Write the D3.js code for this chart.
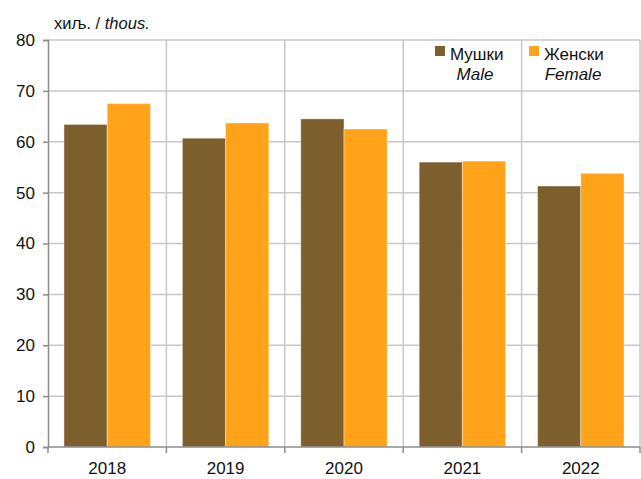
<html>
<head>
	<script src="https://cdn.jsdelivr.net/npm/d3@7"></script>
	<style type="text/css">
	body { margin: 0; background: #fff; }
	text { font-family: "Liberation Sans", Arial, sans-serif; }
	</style>
</head>
<body>
<script type="text/javascript">
	// data
	var years = ["2018", "2019", "2020", "2021", "2022"];
	var male = [63.4, 60.7, 64.5, 56.0, 51.3];
	var female = [67.5, 63.7, 62.5, 56.2, 53.8];
	var yTicks = [0, 10, 20, 30, 40, 50, 60, 70, 80];
	var seriesNames = ["Мушки", "Женски"];
	var seriesNamesEn = ["Male", "Female"];
	var colors = ["#7d5f2d", "#ffa31a"];

	var w = 641, h = 479;
	var pL = 48, pR = 640, pT = 40, pB = 447;

	var svg = d3.select("body").append("svg")
		.attr("width", w)
		.attr("height", h);

	var x = d3.scaleBand().domain(years).range([pL, pR])
		.paddingInner(0.27).paddingOuter(0.135);
	var xs = d3.scaleBand().domain([0, 1]).range([0, x.bandwidth()]);
	var y = d3.scaleLinear().domain([0, 80]).range([pB, pT]);

	// horizontal gridlines
	svg.append("g").selectAll("line").data(yTicks.filter(function(d) { return d > 0; }))
		.enter().append("line")
		.attr("x1", pL).attr("x2", pR)
		.attr("y1", function(d) { return y(d); })
		.attr("y2", function(d) { return y(d); })
		.attr("stroke", "#c8c8c8").attr("stroke-width", 1.5);

	// vertical gridlines at category edges
	var step = x.step();
	var edges = d3.range(1, years.length + 1).map(function(i) { return pL + i * step; });
	svg.append("g").selectAll("line").data(edges)
		.enter().append("line")
		.attr("x1", function(d) { return d; }).attr("x2", function(d) { return d; })
		.attr("y1", pT).attr("y2", pB)
		.attr("stroke", "#c8c8c8").attr("stroke-width", 1.5);

	// bars
	var rows = years.map(function(yr, i) { return { year: yr, vals: [male[i], female[i]] }; });
	var grp = svg.append("g").selectAll("g").data(rows).enter().append("g")
		.attr("transform", function(d) { return "translate(" + x(d.year) + ",0)"; });
	grp.selectAll("rect").data(function(d) { return d.vals; })
		.enter().append("rect")
		.attr("x", function(d, i) { return xs(i); })
		.attr("width", xs.bandwidth())
		.attr("y", function(d) { return y(d); })
		.attr("height", function(d) { return pB - y(d); })
		.attr("fill", function(d, i) { return colors[i]; })
		.attr("stroke", "#fff").attr("stroke-opacity", 0.4).attr("stroke-width", 1);

	// y axis
	var yAxis = svg.append("g").attr("transform", "translate(" + pL + ",0)")
		.call(d3.axisLeft(y).tickValues(yTicks).tickSize(5).tickPadding(8));
	yAxis.select(".domain").attr("stroke", "#8c8c8c").attr("stroke-width", 1.5);
	yAxis.selectAll(".tick line").attr("stroke", "#8c8c8c").attr("stroke-width", 1.5);
	yAxis.selectAll(".tick text").attr("font-size", 17).attr("fill", "#111")
		.attr("font-family", "Liberation Sans, Arial, sans-serif");

	// x axis
	var xAxis = svg.append("g").attr("transform", "translate(0," + pB + ")")
		.call(d3.axisBottom(x).tickSize(0).tickPadding(15));
	xAxis.select(".domain").remove();
	xAxis.append("line").attr("x1", pL).attr("x2", pR)
		.attr("stroke", "#8c8c8c").attr("stroke-width", 1.5);
	xAxis.selectAll(".edge").data([pL].concat(edges)).enter().append("line")
		.attr("class", "edge")
		.attr("x1", function(d) { return d; }).attr("x2", function(d) { return d; })
		.attr("y1", 0).attr("y2", 6)
		.attr("stroke", "#8c8c8c").attr("stroke-width", 1.5);
	xAxis.selectAll(".tick text").attr("font-size", 17).attr("fill", "#111")
		.attr("font-family", "Liberation Sans, Arial, sans-serif");

	// unit label
	var unit = svg.append("text").attr("x", 54).attr("y", 29)
		.attr("font-size", 16.5).attr("fill", "#111");
	unit.append("tspan").text("хиљ. / ");
	unit.append("tspan").attr("font-style", "italic").text("thous.");

	// legend
	var legX = [435, 529];
	var leg = svg.append("g").selectAll("g").data(seriesNames).enter().append("g");
	leg.append("rect")
		.attr("x", function(d, i) { return legX[i]; }).attr("y", 46)
		.attr("width", 10).attr("height", 10)
		.attr("fill", function(d, i) { return colors[i]; });
	leg.append("text")
		.attr("x", function(d, i) { return legX[i] + 15; }).attr("y", 60)
		.attr("font-size", 17).attr("fill", "#111")
		.text(function(d) { return d; });
	leg.append("text")
		.attr("x", function(d, i) { return legX[i] + 40 + i * 4; }).attr("y", 80)
		.attr("text-anchor", "middle")
		.attr("font-size", 17).attr("font-style", "italic").attr("fill", "#111")
		.text(function(d, i) { return seriesNamesEn[i]; });
</script>
</body>
</html>
